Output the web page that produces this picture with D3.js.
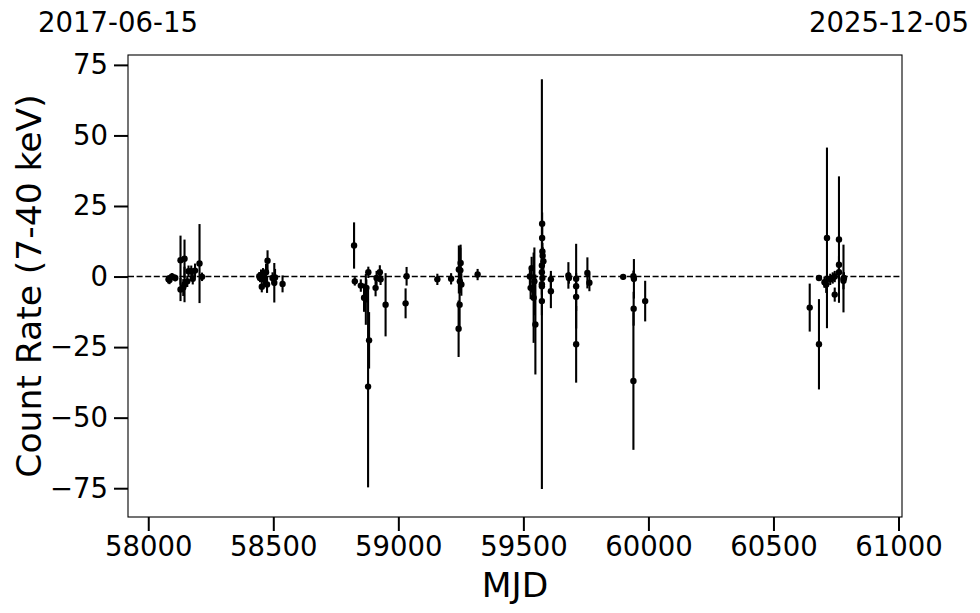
<!DOCTYPE html>
<html lang="en">
<head>
  <meta charset="UTF-8">
  <title></title>
  <style>
    html, body {
      margin: 0;
      overflow: hidden;
      width: 100%;
      height: 100%;
      background: #fff;
    }

    svg {
      position: absolute;
      top: 0;
      left: 0;
      font-family: "DejaVu Sans", sans-serif;
    }
  </style>
</head>
<body>
  <svg width="980" height="613"></svg>
</body>
<script src="https://d3js.org/d3.v7.min.js"></script>
<script type="text/javascript">
  // MJD of each observation, rate and 1-sigma error
  const mjd = [
    58081, 58085, 58095, 58108, 58129, 58129, 58140, 58145, 58145, 58156, 58161, 58172, 58178, 58187, 58205, 58215,
    58444, 58447, 58451, 58454, 58459, 58463, 58471, 58477, 58475, 58497, 58504, 58507, 58537,
    58823, 58826, 58850, 58863, 58870, 58872, 58880, 58883, 58879, 58909, 58913, 58926, 58929, 58949,
    59029, 59033, 59156, 59211,
    59241, 59242, 59245, 59246, 59248, 59249, 59252, 59317,
    59526, 59529, 59533, 59537, 59541, 59544, 59548,
    59574, 59575, 59575, 59576, 59577, 59580, 59574, 59574, 59576, 59574, 59574,
    59610, 59610, 59680, 59682, 59711, 59711, 59711, 59711, 59756, 59764,
    59899, 59940, 59942, 59941, 59940, 59987,
    60645, 60682, 60682, 60704, 60711, 60714, 60727, 60737, 60745, 60745, 60762, 60762, 60762, 60780, 60780, 60782
  ]
  const rate = [
    -1.0, -1.2, 0.0, -0.5, 5.8, -4.6, -3.9, 6.3, -2.8, -1.7, 1.9, 1.9, -0.8, 2.1, 4.6, -0.1,
    0.1, -0.5, 0.5, -3.6, 1.0, -1.0, 1.5, 5.6, -2.8, -0.5, -2.2, -0.3, -2.6,
    11.0, -1.7, -3.2, -7.5, -8.1, -4.0, 1.5, -22.6, -39.0, -4.0, -0.5, 1.5, -1.0, -10.0,
    -9.5, 0.1, -1.0, -0.8,
    -18.5, 2.5, -10.0, -1.7, 2.2, 4.8, -2.8, 0.7,
    0.0, -4.0, 3.0, -4.6, -7.5, -1.7, -17.0,
    -2.7, 18.7, 13.7, 8.9, 7.4, 5.4, 3.9, 1.5, -0.5, -3.4, -8.7,
    -1.0, -5.2, 0.4, -0.5, -0.8, -3.4, -7.2, -24.0, 1.3, -2.2,
    -0.1, 0.1, -0.8, -11.4, -37.0, -8.7,
    -11.0, -0.5, -24.0, -2.0, -2.8, 13.7, -1.0, -0.5, 0.0, -6.4, 13.1, 4.2, 1.5, -0.7, -1.5, -0.5
  ]
  const rateErr = [
    1.5, 1.5, 1.2, 1.2, 8.7, 4.1, 3.0, 6.8, 6.3, 2.0, 2.0, 2.0, 2.0, 2.5, 14.0, 1.5,
    1.5, 1.5, 2.0, 2.0, 2.0, 2.0, 3.0, 3.7, 3.0, 2.0, 7.0, 3.0, 3.0,
    8.2, 1.5, 2.2, 5.0, 9.0, 3.0, 2.0, 10.0, 35.7, 3.0, 2.5, 2.5, 2.0, 11.2,
    5.3, 3.3, 2.0, 2.0,
    10.0, 8.5, 9.0, 3.0, 8.0, 6.5, 4.0, 2.0,
    3.0, 4.0, 4.0, 3.0, 16.0, 12.0, 17.7,
    72.6, 4.0, 4.0, 3.0, 3.0, 3.0, 3.0, 3.0, 3.0, 3.0, 5.0,
    3.0, 6.0, 4.7, 2.0, 2.0, 15.0, 5.0, 13.6, 5.5, 3.0,
    1.0, 2.0, 7.0, 6.0, 24.4, 7.2,
    8.5, 1.0, 16.0, 2.0, 3.0, 32.0, 2.0, 2.0, 2.0, 2.5, 22.4, 3.0, 3.0, 12.0, 3.0, 2.0
  ]

  const xTicks = [58000, 58500, 59000, 59500, 60000, 60500, 61000]
  const yTicks = [-75, -50, -25, 0, 25, 50, 75]
  const dateLabels = ['2017-06-15', '2025-12-05']

  const points = mjd.map((m, i) => ({ m: m, r: rate[i], e: rateErr[i] }))

  const svg = d3.select('svg')
  const margin = { left: 128, right: 78, top: 55, bottom: 96 }
  const width = 980 - margin.left - margin.right
  const height = 613 - margin.top - margin.bottom

  const x = d3.scaleLinear().domain([57919, 61014]).range([0, width])
  const y = d3.scaleLinear().domain([-85.2, 78.5]).range([height, 0])

  const g = svg.append('g').attr('transform', `translate(${margin.left},${margin.top})`)

  // zero line
  g.append('line')
    .attr('x1', 0)
    .attr('x2', width)
    .attr('y1', y(0))
    .attr('y2', y(0))
    .attr('stroke', '#000')
    .attr('stroke-width', 1.6)
    .attr('stroke-dasharray', '6,2.6')

  g.selectAll('line.err')
    .data(points)
    .enter()
    .append('line')
    .attr('class', 'err')
    .attr('x1', d => x(d.m))
    .attr('x2', d => x(d.m))
    .attr('y1', d => y(d.r - d.e))
    .attr('y2', d => y(d.r + d.e))
    .attr('stroke', '#000')
    .attr('stroke-width', 2.1)

  g.selectAll('circle')
    .data(points)
    .enter()
    .append('circle')
    .attr('cx', d => x(d.m))
    .attr('cy', d => y(d.r))
    .attr('r', 3.2)
    .attr('fill', '#000')

  const xAxis = g.append('g')
    .attr('transform', `translate(0,${height})`)
    .call(d3.axisBottom(x).tickValues(xTicks).tickFormat(d3.format('d')).tickSize(14).tickPadding(5))
  const yAxis = g.append('g')
    .call(d3.axisLeft(y).tickValues(yTicks).tickFormat(d => d < 0 ? '\u2212' + Math.abs(d) : d).tickSize(14).tickPadding(6))

  ;[xAxis, yAxis].forEach(a => {
    a.select('.domain').remove()
    a.selectAll('.tick line').attr('stroke-width', 2)
    a.selectAll('.tick text')
      .attr('font-family', '"DejaVu Sans", sans-serif')
      .attr('font-size', 27.5)
      .attr('fill', '#000')
  })

  // frame
  g.append('rect')
    .attr('width', width)
    .attr('height', height)
    .attr('fill', 'none')
    .attr('stroke', '#000')
    .attr('stroke-width', 1.1)

  svg.append('text')
    .attr('x', margin.left + width / 2)
    .attr('y', 597)
    .attr('text-anchor', 'middle')
    .attr('font-size', 34.5)
    .text('MJD')

  svg.append('text')
    .attr('transform', `translate(41,${margin.top + height / 2}) rotate(-90)`)
    .attr('text-anchor', 'middle')
    .attr('font-size', 34.5)
    .text('Count Rate (7-40 keV)')

  svg.append('text')
    .attr('x', 118)
    .attr('y', 32)
    .attr('text-anchor', 'middle')
    .attr('font-size', 27.5)
    .text(dateLabels[0])

  svg.append('text')
    .attr('x', 889)
    .attr('y', 32)
    .attr('text-anchor', 'middle')
    .attr('font-size', 27.5)
    .text(dateLabels[1])
</script>
</html>
